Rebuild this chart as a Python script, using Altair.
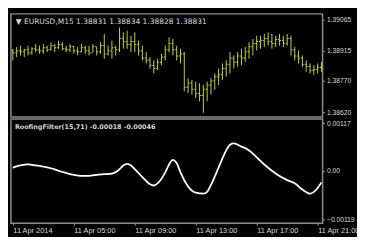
import altair as alt
import pandas as pd

# bar index (M15 bars starting 11 Apr 2014 01:00)
highs = [1.38925, 1.38933, 1.38940, 1.38925, 1.38940, 1.38933, 1.38948, 1.38940, 1.38948, 1.38940,
         1.38956, 1.38948, 1.38964, 1.38956, 1.38940, 1.38948, 1.38940, 1.38933, 1.38948, 1.38940,
         1.38940, 1.38948, 1.38933, 1.38956, 1.38996, 1.38940, 1.38964, 1.38940, 1.39027, 1.39004,
         1.39012, 1.38988, 1.39004, 1.38964, 1.38940, 1.38909, 1.38885, 1.38869, 1.38877, 1.38901,
         1.38940, 1.38980, 1.38972, 1.38940, 1.38925, 1.38909, 1.38783, 1.38775, 1.38767, 1.38759,
         1.38751, 1.38767, 1.38783, 1.38806, 1.38830, 1.38854, 1.38869, 1.38909, 1.38893, 1.38909,
         1.38925, 1.38933, 1.38956, 1.38972, 1.38988, 1.38988, 1.38996, 1.39004, 1.38996, 1.38988,
         1.38996, 1.38988, 1.38996, 1.38988, 1.38933, 1.38917, 1.38893, 1.38869, 1.38854, 1.38846,
         1.38854, 1.38862]
lows = [1.38869, 1.38885, 1.38893, 1.38885, 1.38893, 1.38896, 1.38909, 1.38901, 1.38901, 1.38909,
        1.38917, 1.38909, 1.38925, 1.38917, 1.38909, 1.38909, 1.38901, 1.38893, 1.38909, 1.38901,
        1.38893, 1.38909, 1.38893, 1.38901, 1.38877, 1.38893, 1.38877, 1.38893, 1.38909, 1.38925,
        1.38925, 1.38909, 1.38909, 1.38893, 1.38869, 1.38854, 1.38830, 1.38806, 1.38822, 1.38846,
        1.38869, 1.38909, 1.38893, 1.38869, 1.38854, 1.38720, 1.38712, 1.38704, 1.38688, 1.38672,
        1.38617, 1.38672, 1.38704, 1.38728, 1.38751, 1.38775, 1.38791, 1.38806, 1.38830, 1.38838,
        1.38846, 1.38862, 1.38877, 1.38893, 1.38917, 1.38925, 1.38933, 1.38940, 1.38925, 1.38933,
        1.38940, 1.38933, 1.38940, 1.38893, 1.38869, 1.38854, 1.38838, 1.38814, 1.38806, 1.38798,
        1.38806, 1.38814]
opens = [1.38915, 1.38905, 1.38915, 1.38910, 1.38920, 1.38905, 1.38925, 1.38920, 1.38915, 1.38930,
         1.38920, 1.38940, 1.38930, 1.38945, 1.38925, 1.38920, 1.38935, 1.38915, 1.38910, 1.38930,
         1.38915, 1.38905, 1.38935, 1.38910, 1.38940, 1.38900, 1.38915, 1.38930, 1.38920, 1.38975,
         1.38960, 1.38945, 1.38960, 1.38945, 1.38915, 1.38880, 1.38870, 1.38845, 1.38830, 1.38860,
         1.38885, 1.38920, 1.38950, 1.38920, 1.38890, 1.38900, 1.38740, 1.38760, 1.38730, 1.38710,
         1.38700, 1.38730, 1.38750, 1.38770, 1.38790, 1.38800, 1.38830, 1.38850, 1.38880, 1.38860,
         1.38890, 1.38880, 1.38910, 1.38935, 1.38950, 1.38960, 1.38965, 1.38975, 1.38960, 1.38950,
         1.38970, 1.38965, 1.38950, 1.38975, 1.38920, 1.38890, 1.38880, 1.38850, 1.38840, 1.38820,
         1.38825, 1.38835]
closes = [1.38905, 1.38915, 1.38910, 1.38920, 1.38905, 1.38925, 1.38920, 1.38915, 1.38930, 1.38920,
          1.38940, 1.38930, 1.38945, 1.38925, 1.38920, 1.38935, 1.38915, 1.38910, 1.38930, 1.38915,
          1.38905, 1.38935, 1.38910, 1.38940, 1.38900, 1.38915, 1.38930, 1.38920, 1.38975, 1.38960,
          1.38945, 1.38960, 1.38945, 1.38915, 1.38880, 1.38870, 1.38845, 1.38830, 1.38860, 1.38885,
          1.38920, 1.38950, 1.38920, 1.38890, 1.38900, 1.38740, 1.38760, 1.38730, 1.38710, 1.38700,
          1.38730, 1.38750, 1.38770, 1.38790, 1.38800, 1.38830, 1.38850, 1.38880, 1.38860, 1.38890,
          1.38880, 1.38910, 1.38935, 1.38950, 1.38960, 1.38965, 1.38975, 1.38960, 1.38950, 1.38970,
          1.38965, 1.38950, 1.38975, 1.38920, 1.38890, 1.38880, 1.38850, 1.38840, 1.38820, 1.38825,
          1.38835, 1.38830]

filt_idx = [0, 2, 4, 6, 8, 10, 12, 14, 16, 18, 20, 22, 24, 26, 28, 29, 30, 31, 32, 34, 36, 37, 38,
            40, 41, 42, 43, 44, 46, 48, 50, 51, 52, 54, 56, 57, 58, 60, 62, 64, 66, 68, 70, 72, 74,
            76, 78, 80, 81]
filt_val = [0.000077, 0.000131, 0.000154, 0.000131, 0.000100, 0.000062, 0.0, -0.000054, -0.000100,
            -0.000123, -0.000123, -0.000100, -0.000085, -0.000069, 0.000038, 0.000131, 0.000169,
            0.000131, 0.000038, -0.000154, -0.000331, -0.000362, -0.000308, -0.000038, 0.000154,
            0.000269, 0.000192, -0.000038, -0.000385, -0.000539, -0.000562, -0.000516, -0.000347,
            0.000077, 0.000500, 0.000639, 0.000670, 0.000593, 0.000500, 0.000331, 0.000154, 0.0,
            -0.000131, -0.000231, -0.000308, -0.000462, -0.000562, -0.000423, -0.000285]

price_ticks = [1.39065, 1.38915, 1.38770, 1.38620]
filt_ticks = [0.00117, 0.0, -0.00119]
time_ticks = [0, 16, 32, 48, 64, 80]
time_labels = ["11 Apr 2014", "11 Apr 05:00", "11 Apr 09:00", "11 Apr 13:00", "11 Apr 17:00", "11 Apr 21:00"]
title_top = "\u25bc  EURUSD,M15  1.38831  1.38834  1.38828  1.38831"
title_bot = "RoofingFilter(15,71)  -0.00018  -0.00046"

bars = pd.DataFrame({"i": list(range(len(highs))), "high": highs, "low": lows,
                     "open": opens, "close": closes})
filt = pd.DataFrame({"i": filt_idx, "v": filt_val})

W = 317
BAR = "#c4cf3c"
FONT = "Liberation Sans"
TFONT = "DejaVu Sans"
LBL = "#d8d8d8"
TICK = "#9a9a9a"

xscale = alt.Scale(domain=[-0.5, 81.3], nice=False, zero=False)
yscale_top = alt.Scale(domain=[1.38596, 1.39093], nice=False, zero=False)
yscale_bot = alt.Scale(domain=[-0.00129, 0.00127], nice=False, zero=False)

yaxis_top = alt.Axis(orient="right", values=price_ticks, format=".5f", title=None, grid=False,
                     domain=False, tickColor=TICK, tickSize=2, labelColor=LBL, labelOverlap=False,
                     labelFont=FONT, labelFontSize=6.8, labelPadding=2)

base_top = alt.Chart(bars)
rules = base_top.mark_rule(color=BAR, strokeWidth=1).encode(
    x=alt.X("i:Q", scale=xscale, axis=None),
    y=alt.Y("low:Q", scale=yscale_top, axis=yaxis_top),
    y2="high:Q",
)
open_t = base_top.mark_rule(color=BAR, strokeWidth=1, xOffset=-1.5, x2Offset=0).encode(
    x=alt.X("i:Q", scale=xscale, axis=None), x2="i:Q",
    y=alt.Y("open:Q", scale=yscale_top, axis=yaxis_top))
close_t = base_top.mark_rule(color=BAR, strokeWidth=1, xOffset=0, x2Offset=1.5).encode(
    x=alt.X("i:Q", scale=xscale, axis=None), x2="i:Q",
    y=alt.Y("close:Q", scale=yscale_top, axis=yaxis_top))
t_top = alt.Chart(pd.DataFrame({"t": [title_top]})).mark_text(
    align="left", baseline="middle", color=LBL, font=TFONT, fontSize=7.6
).encode(x=alt.value(5), y=alt.value(8), text="t:N")

top = alt.layer(rules, open_t, close_t, t_top).properties(width=W, height=105)

label_expr = "[" + ",".join("'%s'" % s for s in time_labels) + "][round(datum.value/16)]"
xaxis = alt.Axis(values=time_ticks, labelExpr=label_expr, title=None, grid=False, domain=False,
                 tickColor=TICK, tickSize=2, labelColor=LBL, labelFont=FONT,
                 labelFontSize=7.5, labelAlign="left", labelPadding=1, labelFlush=False,
                 labelOverlap=False, labelBound=False)
yaxis_bot = alt.Axis(orient="right", values=filt_ticks, title=None, grid=False, domain=False,
                     labelExpr="datum.value == 0 ? '0.00' : format(datum.value, '.5f')",
                     tickColor=TICK, tickSize=2, labelColor=LBL, labelOverlap=False,
                     labelFont=FONT, labelFontSize=6.8, labelPadding=2)

line = alt.Chart(filt).mark_line(color="white", strokeWidth=1.8, interpolate="monotone").encode(
    x=alt.X("i:Q", scale=xscale, axis=xaxis),
    y=alt.Y("v:Q", scale=yscale_bot, axis=yaxis_bot),
)
t_bot = alt.Chart(pd.DataFrame({"t": [title_bot]})).mark_text(
    align="left", baseline="middle", color=LBL, font=TFONT, fontSize=6.5, fontWeight="bold"
).encode(x=alt.value(4), y=alt.value(8), text="t:N")

bottom = alt.layer(line, t_bot).properties(width=W, height=106)

chart = alt.vconcat(top, bottom, spacing=0).properties(
    background="black",
    padding={"left": 0, "top": 3, "right": -4, "bottom": 0},
).configure_view(stroke="#8c8c8c", strokeWidth=1.5, fill="black").resolve_scale(y="independent")

chart.save("out.html", embed_options={"renderer": "svg", "actions": False})
